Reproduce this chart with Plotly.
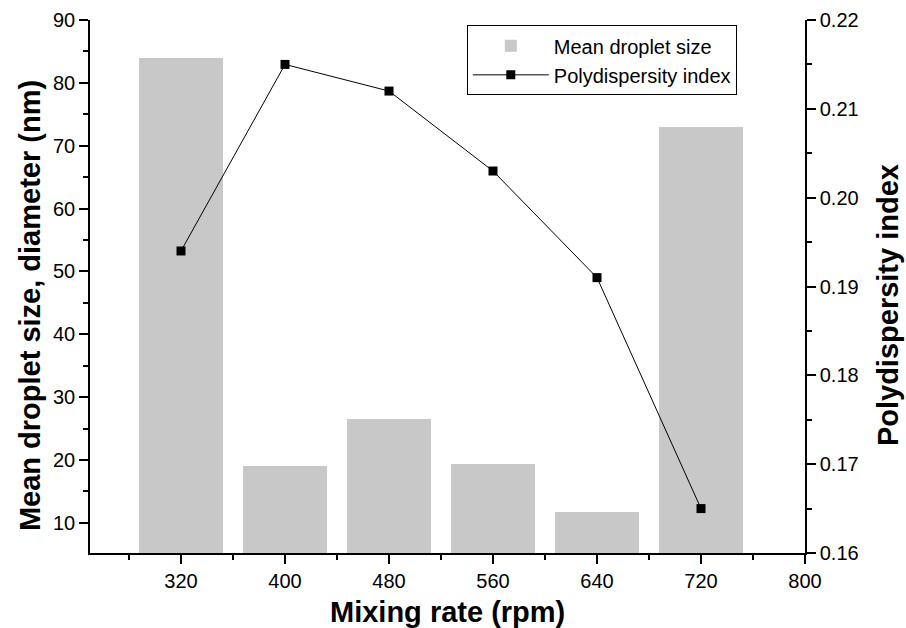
import plotly.graph_objects as go

mixing_rate = [320, 400, 480, 560, 640, 720]
droplet_size = [84.0, 19.0, 26.5, 19.3, 11.8, 73.0]
pdi = [0.194, 0.215, 0.212, 0.203, 0.191, 0.165]
x_ticks = [320, 400, 480, 560, 640, 720, 800]

FONT = "Liberation Sans, Arial, sans-serif"

fig = go.Figure()
fig.add_trace(go.Bar(
    x=mixing_rate, y=droplet_size, width=64, name="Mean droplet size",
    marker=dict(color="#c8c8c8", line=dict(width=0)), yaxis="y", base=0,
))
fig.add_trace(go.Scatter(
    x=mixing_rate, y=pdi, name="Polydispersity index", yaxis="y2",
    mode="lines+markers", line=dict(color="black", width=1),
    marker=dict(symbol="square", size=9, color="black"),
))

axis_common = dict(
    showline=True, linecolor="black", linewidth=1.5, ticks="outside",
    ticklen=9, tickwidth=1.5, tickcolor="black", showgrid=False, zeroline=False,
    tickfont=dict(family=FONT, size=20, color="black"), automargin=False,
)
TITLE_FONT = dict(family=FONT, size=29, color="black")

fig.update_layout(
    width=906, height=628,
    margin=dict(l=90, r=101, t=20, b=75),
    plot_bgcolor="white", paper_bgcolor="white",
    bargap=0,
    font=dict(family=FONT, color="black"),
    xaxis=dict(
        **axis_common, range=[250, 800], tickvals=x_ticks,
        minor=dict(ticks="outside", ticklen=5, tickwidth=1.5, tickcolor="black",
                   tick0=280, dtick=80),
    ),
    yaxis=dict(
        **axis_common, range=[5.2, 90], tick0=10, dtick=10,
        minor=dict(ticks="outside", ticklen=5, tickwidth=1.5, tickcolor="black",
                   tick0=5, dtick=10),
    ),
    yaxis2=dict(
        **axis_common, overlaying="y", side="right", range=[0.16, 0.22],
        tick0=0.16, dtick=0.01, tickformat=".2f",
        minor=dict(ticks="outside", ticklen=5, tickwidth=1.5, tickcolor="black",
                   tick0=0.165, dtick=0.01),
    ),
    legend=dict(
        x=0.527, y=0.99, xanchor="left", yanchor="top",
        bgcolor="white", bordercolor="black", borderwidth=1,
        font=dict(family=FONT, size=20, color="black"),
        tracegroupgap=4, itemwidth=76,
    ),
    annotations=[
        dict(text="<b>Mixing rate (rpm)</b>",
             xref="paper", yref="paper", x=0.5, y=-0.111,
             xanchor="center", yanchor="middle", showarrow=False, font=TITLE_FONT),
        dict(text="<b>Mean droplet size, diameter (nm)</b>", textangle=-90,
             xref="paper", yref="paper", x=-0.084, y=0.465,
             xanchor="center", yanchor="middle", showarrow=False, font=TITLE_FONT),
        dict(text="<b>Polydispersity index</b>", textangle=-90,
             xref="paper", yref="paper", x=1.116, y=0.465,
             xanchor="center", yanchor="middle", showarrow=False, font=TITLE_FONT),
    ],
)

fig.write_html("out.html")
